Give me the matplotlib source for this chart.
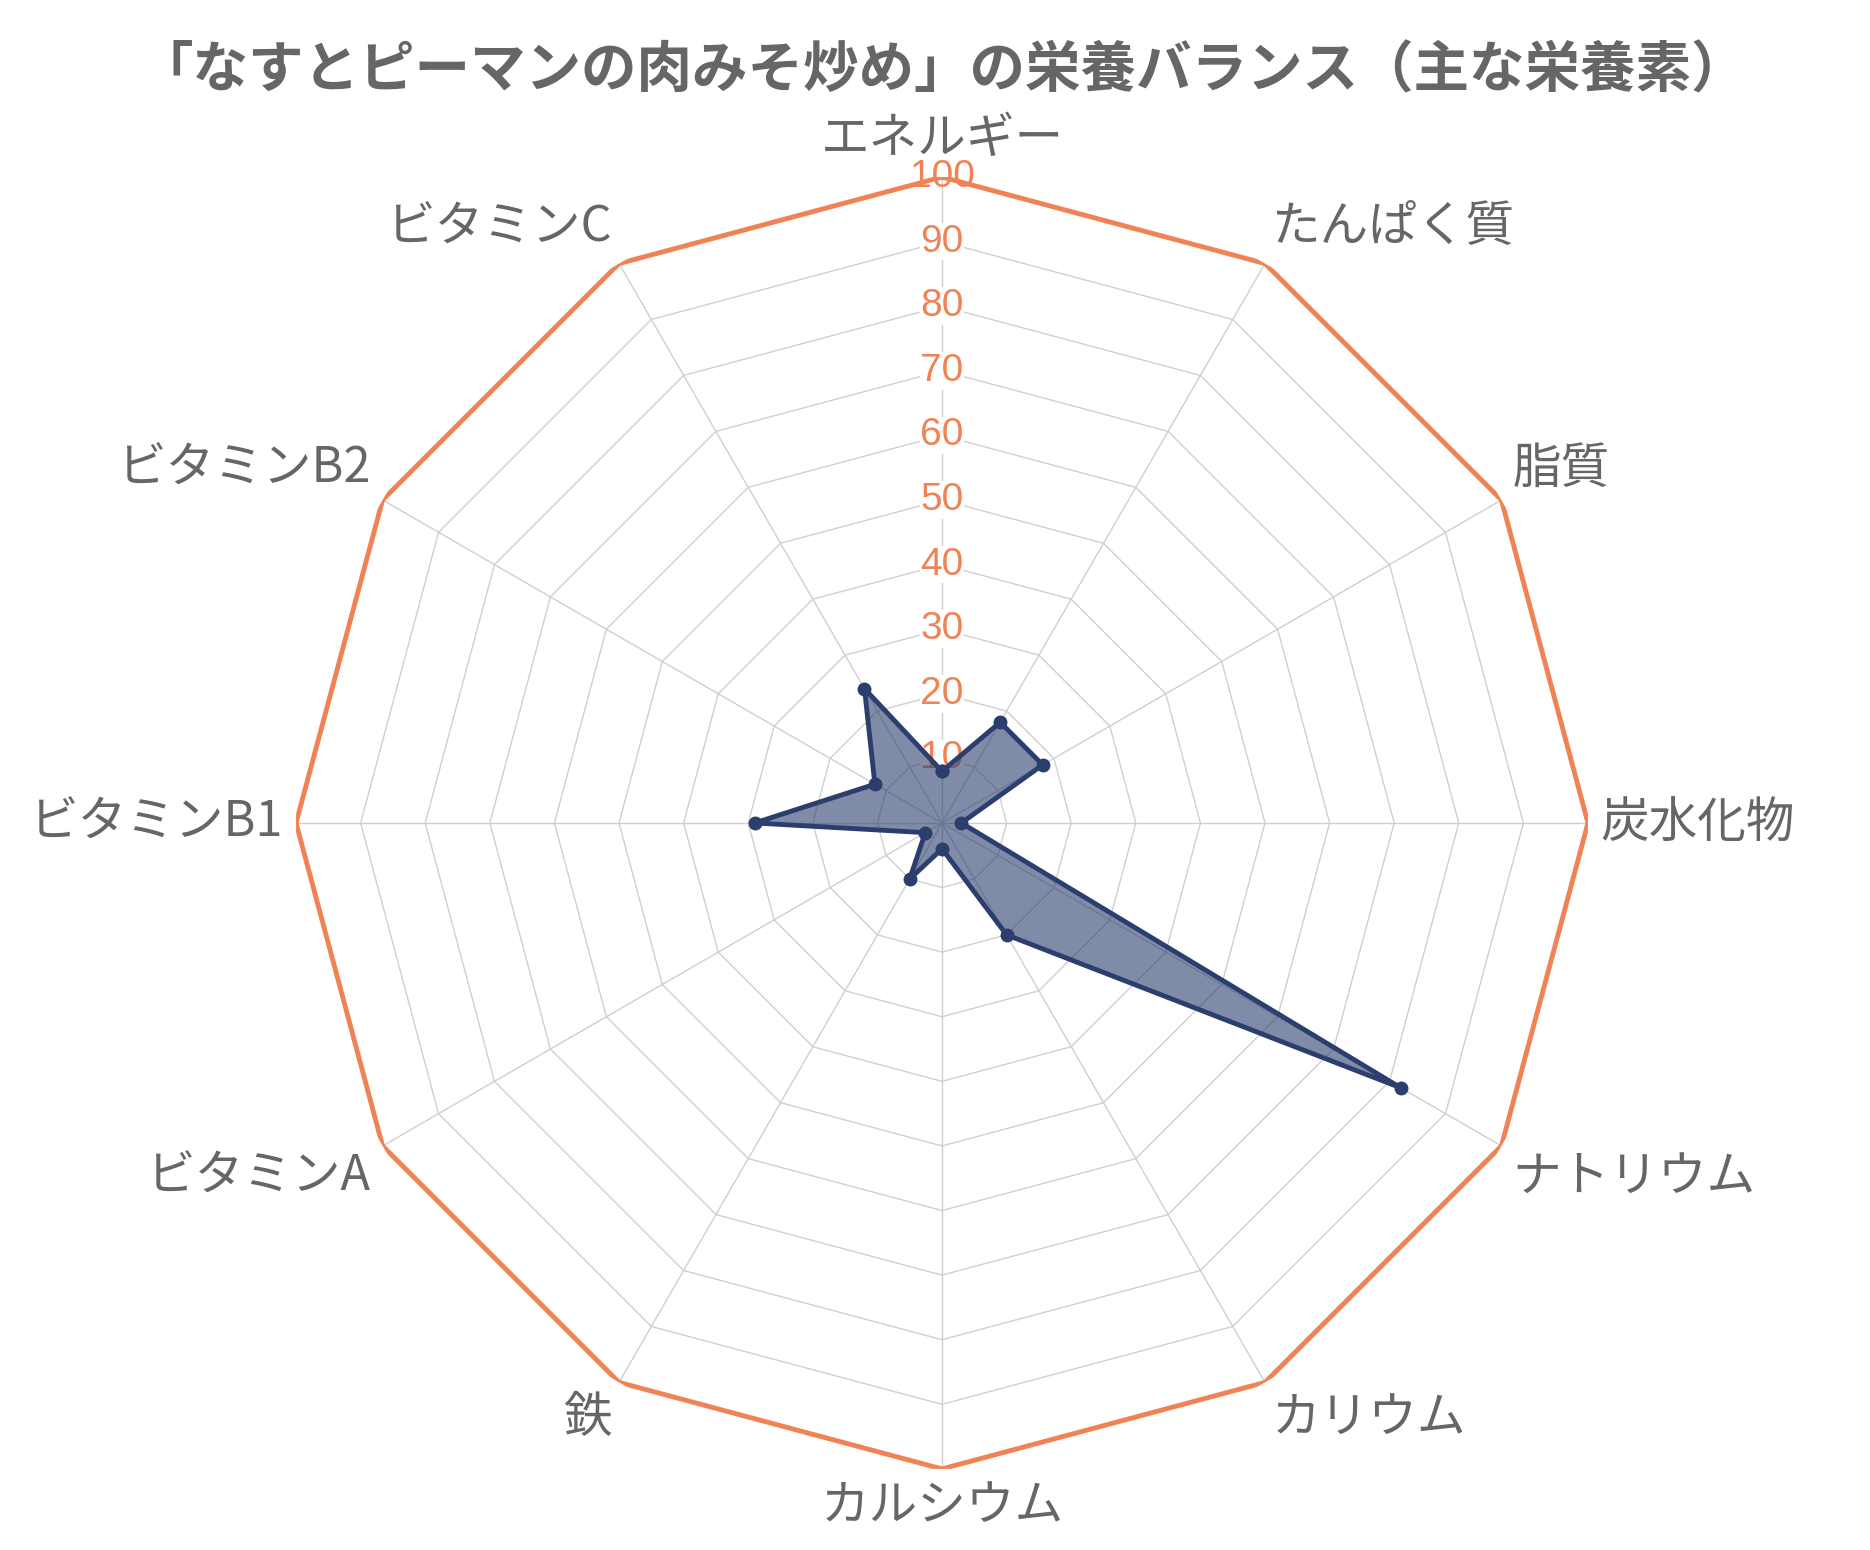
import numpy as np
import matplotlib
matplotlib.use("Agg")
import matplotlib.pyplot as plt

plt.rcParams['font.family'] = ['Noto Sans CJK JP', 'DejaVu Sans']

# 栄養素と充足率(%)
labels = ["エネルギー", "たんぱく質", "脂質", "炭水化物", "ナトリウム", "カリウム",
          "カルシウム", "鉄", "ビタミンA", "ビタミンB1", "ビタミンB2", "ビタミンC"]
values = [8, 18, 18, 3, 82, 20, 4, 10, 3, 29, 12, 24]
ticks = [10, 20, 30, 40, 50, 60, 70, 80, 90, 100]

orange = "#F08355"
navy = "#2C3E6E"
gray_txt = "#666666"
grid_col = "#CFCFCF"

n = len(labels)
angles = np.linspace(0, 2 * np.pi, n, endpoint=False)
closed = np.append(angles, angles[0])

fig = plt.figure(figsize=(18.7, 15.5), dpi=100)
ax = fig.add_axes([0.1583, 0.0523, 0.6909, 0.8335], projection="polar")
ax.set_theta_offset(np.pi / 2)
ax.set_theta_direction(-1)
ax.set_ylim(0, 100)
ax.set_xticks([])
ax.set_yticks([])
ax.grid(False)
ax.spines['polar'].set_visible(False)
ax.patch.set_alpha(0)

# グリッド(多角形)
for t in ticks[:-1]:
    ax.plot(closed, [t] * (n + 1), color=grid_col, lw=1.0, zorder=1)
for a in angles:
    ax.plot([a, a], [0, 100], color=grid_col, lw=1.0, zorder=1)
ax.plot(closed, [100] * (n + 1), color=orange, lw=3.5, zorder=3)

# 目盛りラベル
for t in ticks:
    kw = {}
    if t < 100:
        kw['bbox'] = dict(facecolor='white', edgecolor='none', pad=0.5)
    ax.text(0, t, str(t), ha='center', va='center', fontsize=28,
            color=orange, family=['Liberation Sans', 'DejaVu Sans'], zorder=2, **kw)

# データ
vals = values + values[:1]
ax.fill(closed, vals, color=navy, alpha=0.6, zorder=4, lw=0)
ax.plot(closed, vals, color=navy, lw=3.5, marker='o', markersize=9, zorder=5)

# 項目ラベル
for a, lab in zip(angles, labels):
    deg = round(np.degrees(a)) % 360
    if deg in (0, 180):
        ha = 'center'
    elif deg < 180:
        ha = 'left'
    else:
        ha = 'right'
    if deg in (90, 270):
        va = 'center'
    elif deg < 90 or deg > 270:
        va = 'bottom'
    else:
        va = 'top'
    ax.text(a, 102, lab, ha=ha, va=va, fontsize=35, color=gray_txt)

fig.text(0.504, 0.954, "「なすとピーマンの肉みそ炒め」の栄養バランス（主な栄養素）",
         ha='center', va='center', fontsize=40, fontweight='bold', color=gray_txt)

plt.savefig("out.png", dpi=100)
